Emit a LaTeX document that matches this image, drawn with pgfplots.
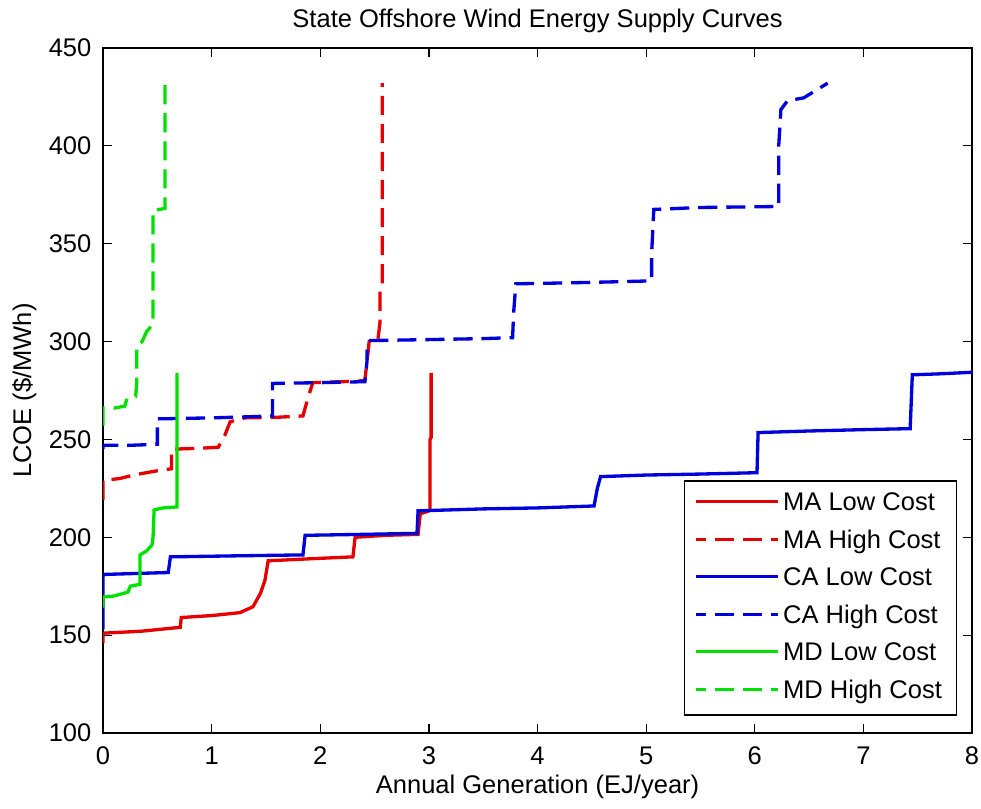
\documentclass[border=0pt]{standalone}
\usepackage{fontspec}
\setmainfont{Liberation Sans}
\usepackage{pgfplots}
\pgfplotsset{compat=1.18}
\definecolor{mred}{RGB}{230,0,0}
\definecolor{mblue}{RGB}{0,0,220}
\definecolor{mgreen}{RGB}{0,225,0}
\begin{document}
\begin{tikzpicture}
\begin{axis}[
  scale only axis, width=340.6pt, height=268.5pt,
  xmin=0, xmax=8, ymin=100, ymax=450,
  xtick={0,1,...,8}, ytick={100,150,...,450},
  tick align=inside, major tick length=3.5pt,
  tick style={black, line width=0.5pt},
  axis line style={black, line width=0.6pt},
  /pgf/number format/assume math mode=true,
  ticklabel style={font=\fontsize{10}{12}\selectfont},
  xticklabel style={anchor=base, inner sep=0pt, yshift=-12.5pt},
  yticklabel style={anchor=east, inner sep=0pt, xshift=-4.4pt},
  every axis title shift=0pt,
  title={State Offshore Wind Energy Supply Curves},
  title style={at={(axis description cs:0.5,1.0292)}, anchor=base, inner sep=0pt, font=\fontsize{10}{12}\selectfont},
  xlabel={Annual Generation (EJ/year)},
  xlabel style={at={(axis description cs:0.5,-0.0876)}, anchor=base, inner sep=0pt, font=\fontsize{10}{12}\selectfont},
  ylabel={LCOE (\$/MWh)},
  ylabel style={at={(axis description cs:-0.0829,0.5)}, anchor=base, inner sep=0pt, font=\fontsize{10}{12}\selectfont},
  every axis plot/.append style={line width=1.3pt},
  legend cell align=left,
  legend style={at={(0.9827,0.0248)}, anchor=south east, draw=black, line width=0.6pt, fill=white,
    inner xsep=4pt, inner ysep=4.6pt, row sep=5.5pt, font=\fontsize{10}{12}\selectfont,
    nodes={inner xsep=1.6pt, inner ysep=0pt, text height=7.2pt, text depth=2pt}},
  legend image code/.code={\draw[#1, line width=1.1pt, dash phase=3.5pt] (0pt,1pt) -- (32pt,1pt);},
]
% MA Low Cost
\addplot[mred, solid] coordinates {
(0,146) (0,151) (0.35,152) (0.71,154) (0.72,159) (1.0,160) (1.26,161.5) (1.38,164.5) (1.45,171.5) (1.49,178) (1.52,188) (1.9,189) (2.3,190) (2.32,200) (2.6,201) (2.9,201.5) (2.92,212) (3.0,213.5) (3.01,214) (3.01,250) (3.02,251) (3.02,284)
};
\addlegendentry{MA Low Cost}
% MA High Cost
\addplot[mred, dash pattern=on 7.5pt off 3.5pt] coordinates {
(0,219) (0,229) (0.15,230) (0.3,232) (0.5,234) (0.63,235) (0.63,245) (0.9,245.5) (1.06,246) (1.12,252) (1.17,259) (1.3,261) (1.6,261.3) (1.84,262) (1.88,270) (1.93,279) (2.2,279.5) (2.41,280) (2.43,290) (2.45,300) (2.53,301) (2.55,310) (2.55,326) (2.57,328) (2.57,432)
};
\addlegendentry{MA High Cost}
% CA Low Cost
\addplot[mblue, solid] coordinates {
(0,153) (0,181) (0.3,181.5) (0.6,182) (0.62,190) (1.2,190.5) (1.84,191) (1.86,201) (2.4,201.5) (2.89,202) (2.9,213.5) (3.5,214.5) (4.0,215) (4.52,216) (4.55,225) (4.58,231) (5.0,231.8) (5.5,232.3) (6.02,233) (6.03,253.5) (6.5,254.3) (7.0,255) (7.43,255.5) (7.45,283) (7.7,283.5) (8,284.3)
};
\addlegendentry{CA Low Cost}
% CA High Cost
\addplot[mblue, dash pattern=on 7.5pt off 3.5pt] coordinates {
(0,245) (0,247) (0.25,247) (0.5,247.5) (0.5,260.5) (1.0,261) (1.3,261.5) (1.56,262) (1.56,278.6) (2.0,279) (2.41,279.5) (2.43,290) (2.43,298) (2.46,300.5) (3.0,301) (3.5,301.5) (3.77,302) (3.78,315) (3.8,329.5) (4.3,330) (4.7,330.5) (5.05,331) (5.05,345) (5.07,367.5) (5.5,368.5) (6.22,369) (6.22,400) (6.24,418.5) (6.3,423) (6.45,424.5) (6.67,432)
};
\addlegendentry{CA High Cost}
% MD Low Cost
\addplot[mgreen, solid] coordinates {
(0,164) (0,169.5) (0.1,170) (0.23,172) (0.25,175) (0.34,176) (0.34,191) (0.40,193) (0.45,196) (0.46,200) (0.47,214) (0.55,215) (0.68,215.5) (0.68,284)
};
\addlegendentry{MD Low Cost}
% MD High Cost
\addplot[mgreen, dash pattern=on 7.5pt off 3.5pt] coordinates {
(0,257) (0,266) (0.1,266) (0.2,267) (0.22,271) (0.3,272) (0.31,279) (0.31,298) (0.36,300) (0.4,305) (0.46,309) (0.46,367) (0.57,368) (0.57,432)
};
\addlegendentry{MD High Cost}
\end{axis}
\pgfresetboundingbox
\path ([xshift=-40.4pt,yshift=-29.4pt]current axis.south west) rectangle ([xshift=3.5pt,yshift=18.8pt]current axis.north east);
\end{tikzpicture}
\end{document}
